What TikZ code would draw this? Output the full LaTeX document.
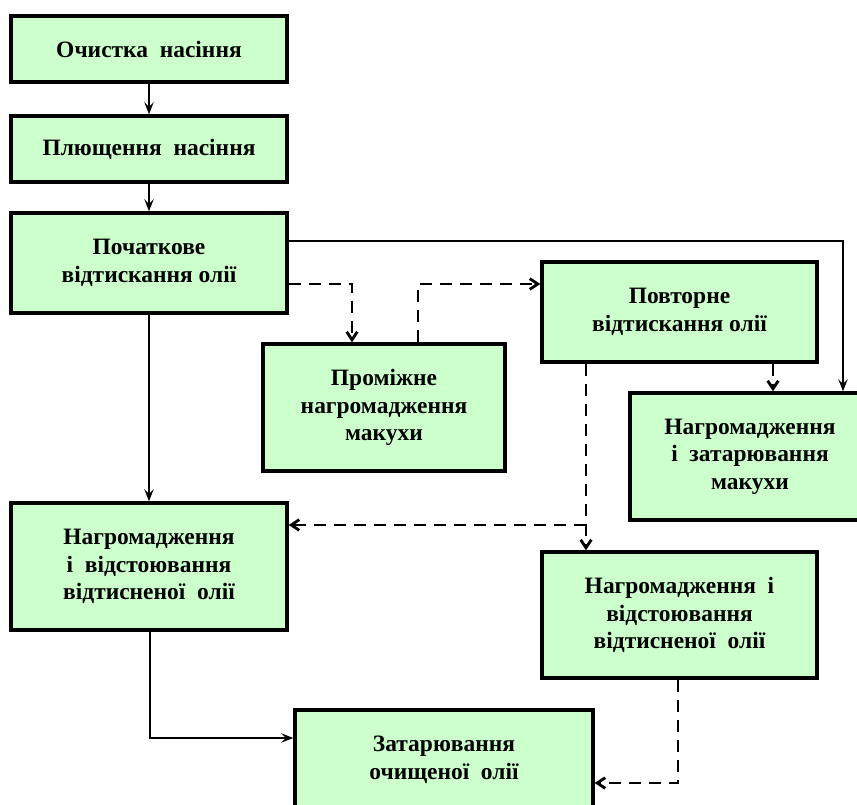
\documentclass[tikz,border=0pt]{standalone}
\usepackage{fontspec}
\setmainfont{Liberation Serif}
\usetikzlibrary{arrows.meta}
\definecolor{boxgreen}{HTML}{CCFFCC}
\begin{document}
\begin{tikzpicture}[x=0.75pt,y=-0.75pt,
  box/.style={draw=black, line width=2.6pt, fill=boxgreen, align=center, inner sep=0pt,
    font=\bfseries\fontsize{17.6}{20.6}\selectfont, text=black},
  wh/.style 2 args={minimum width={#1*0.75pt}, minimum height={#2*0.75pt}},
  solidc/.style={line width=1.9pt, -{Stealth[length=9pt,width=7pt,inset=3.5pt]}},
  dashc/.style={line width=2.1pt, dash pattern=on 9pt off 6pt, -{Straight Barb[length=6pt,width=8pt]}},
]
\useasboundingbox (0,0) rectangle (857,805);
\clip (0,0) rectangle (857,805);

\node[box, wh={276}{66}]  (b1) at (149,49)    {Очистка\ \ насіння};
\node[box, wh={276}{66}]  (b2) at (149,149)   {Плющення\ \ насіння};
\node[box, wh={276}{100}] (b3) at (149,263)   {Початкове\\відтискання олії};
\node[box, wh={242}{127}] (b4) at (384,407.5) {Проміжне\\нагромадження\\макухи};
\node[box, wh={275}{100}] (b5) at (679.5,312) {Повторне\\відтискання олії};
\node[box, wh={240}{127}] (b6) at (750,456.5) {Нагромадження\\і\ \ затарювання\\макухи};
\node[box, wh={276}{127}] (b7) at (149,566.5) {Нагромадження\\і\ \ відстоювання\\відтисненої\ \ олії};
\node[box, wh={275}{126}] (b8) at (679.5,615) {Нагромадження\ \ і\\відстоювання\\відтисненої\ \ олії};
\node[box, wh={298}{100}] (b9) at (444,760)   {Затарювання\\очищеної\ \ олії};

\draw[solidc] (b1) -- (b2);
\draw[solidc] (b2) -- (b3);
\draw[solidc] (b3) -- (b7);

\coordinate (c1) at (843,241);
\draw[solidc] (b3.east |- c1) -- (c1) -- (c1 |- b6.north);

\coordinate (c2) at (352,284);
\draw[dashc] (b3.east |- c2) -- (c2) -- (c2 |- b4.north);

\coordinate (c3) at (418,284);
\draw[dashc] (c3 |- b4.north) -- (c3) -- (c3 -| b5.west);

\coordinate (c4) at (773,0);
\draw[dashc] (c4 |- b5.south) -- (c4 |- b6.north);

\coordinate (c5) at (586,525);
\draw[dashc] (c5 |- b5.south) -- (c5 |- b8.north);
\draw[dashc] (c5) -- (c5 -| b7.east);

\coordinate (c6) at (150,738);
\draw[solidc] (c6 |- b7.south) -- (c6) -- (c6 -| b9.west);

\coordinate (c7) at (678,783);
\draw[dashc] (c7 |- b8.south) -- (c7) -- (c7 -| b9.east);
\end{tikzpicture}
\end{document}
